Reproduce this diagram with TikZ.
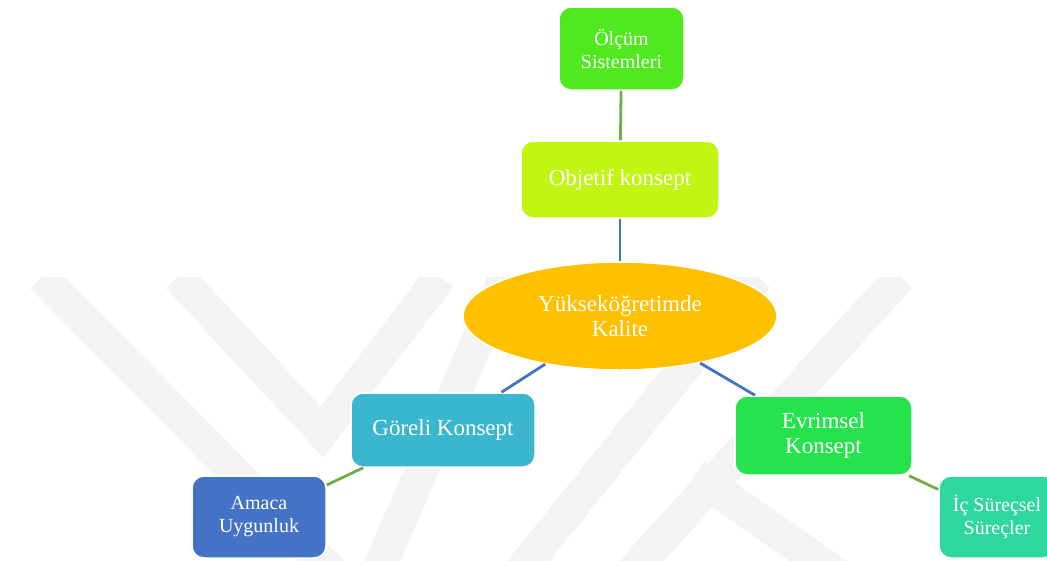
\documentclass[tikz,border=0pt]{standalone}
\usepackage{fontspec}
\setmainfont{Liberation Serif}
\usetikzlibrary{shapes.geometric}

\definecolor{cOlc}{RGB}{80,232,30}
\definecolor{cObj}{RGB}{192,245,20}
\definecolor{cEll}{RGB}{255,192,0}
\definecolor{cGor}{RGB}{58,182,206}
\definecolor{cEvr}{RGB}{36,227,76}
\definecolor{cAma}{RGB}{68,114,196}
\definecolor{cIc}{RGB}{46,214,160}
\definecolor{lnGreen}{RGB}{112,173,71}
\definecolor{lnBlue}{RGB}{68,114,196}
\definecolor{wmark}{RGB}{243,243,243}

\tikzset{
  box/.style={rectangle, rounded corners=12pt, draw=white, line width=1.5pt,
    text=white, align=center, inner sep=0pt},
  bigtxt/.style={font=\fontsize{23}{25}\selectfont},
  smalltxt/.style={font=\fontsize{20}{23}\selectfont},
  linkG/.style={draw=lnGreen, line width=2.8pt},
  linkB/.style={draw=lnBlue, line width=2.8pt},
  band/.style={draw=wmark, line width=33pt, line join=miter}
}

\begin{document}
\begin{tikzpicture}[x=1pt, y=-1pt]
\useasboundingbox (0,0) rectangle (1047,560);
\fill[white] (0,0) rectangle (1047,560);

% faint logo in the background
\begin{scope}
  \clip (0,277) rectangle (1047,560);
  \draw[band] (42,277) -- (350,590);
  \draw[band] (178,277) -- (322,432) -- (440,277);
  \draw[band] (370,590) -- (505,277);
  \draw[band] (505,590) -- (757,277);
  \draw[band] (615,590) -- (900,277);
  \draw[band] (695,475) -- (860,590);
\end{scope}

% nodes
\node[box, bigtxt, fill=cEll, draw=white, ellipse, minimum width=314pt, minimum height=108pt]
  (ell) at (620,316) {Yükseköğretimde\\Kalite};
\node[box, smalltxt, fill=cOlc, minimum width=125pt, minimum height=83pt]
  (olc) at (621.5,48.5) {Ölçüm\\Sistemleri};
\node[box, bigtxt, fill=cObj, minimum width=198pt, minimum height=77pt]
  (obj) at (620,179.5) {Objetif konsept};
\node[box, bigtxt, fill=cGor, minimum width=184pt, minimum height=74pt]
  (gor) at (443,430) {Göreli Konsept};
\node[box, bigtxt, fill=cEvr, minimum width=177pt, minimum height=79pt]
  (evr) at (823.5,435.5) {Evrimsel\\Konsept};
\node[box, smalltxt, fill=cAma, minimum width=134pt, minimum height=82pt]
  (ama) at (259,517) {Amaca\\Uygunluk};
\node[box, smalltxt, fill=cIc, minimum width=116pt, minimum height=82pt]
  (ic) at (997,517) {İç Süreçsel\\Süreçler};

% connectors
\draw[linkG] (olc) -- (obj);
\draw[linkB] (obj) -- (ell);
\draw[linkB] (ell) -- (gor);
\draw[linkB] (ell) -- (evr);
\draw[linkG] (gor) -- (ama);
\draw[linkG] (evr) -- (ic);
\end{tikzpicture}
\end{document}
